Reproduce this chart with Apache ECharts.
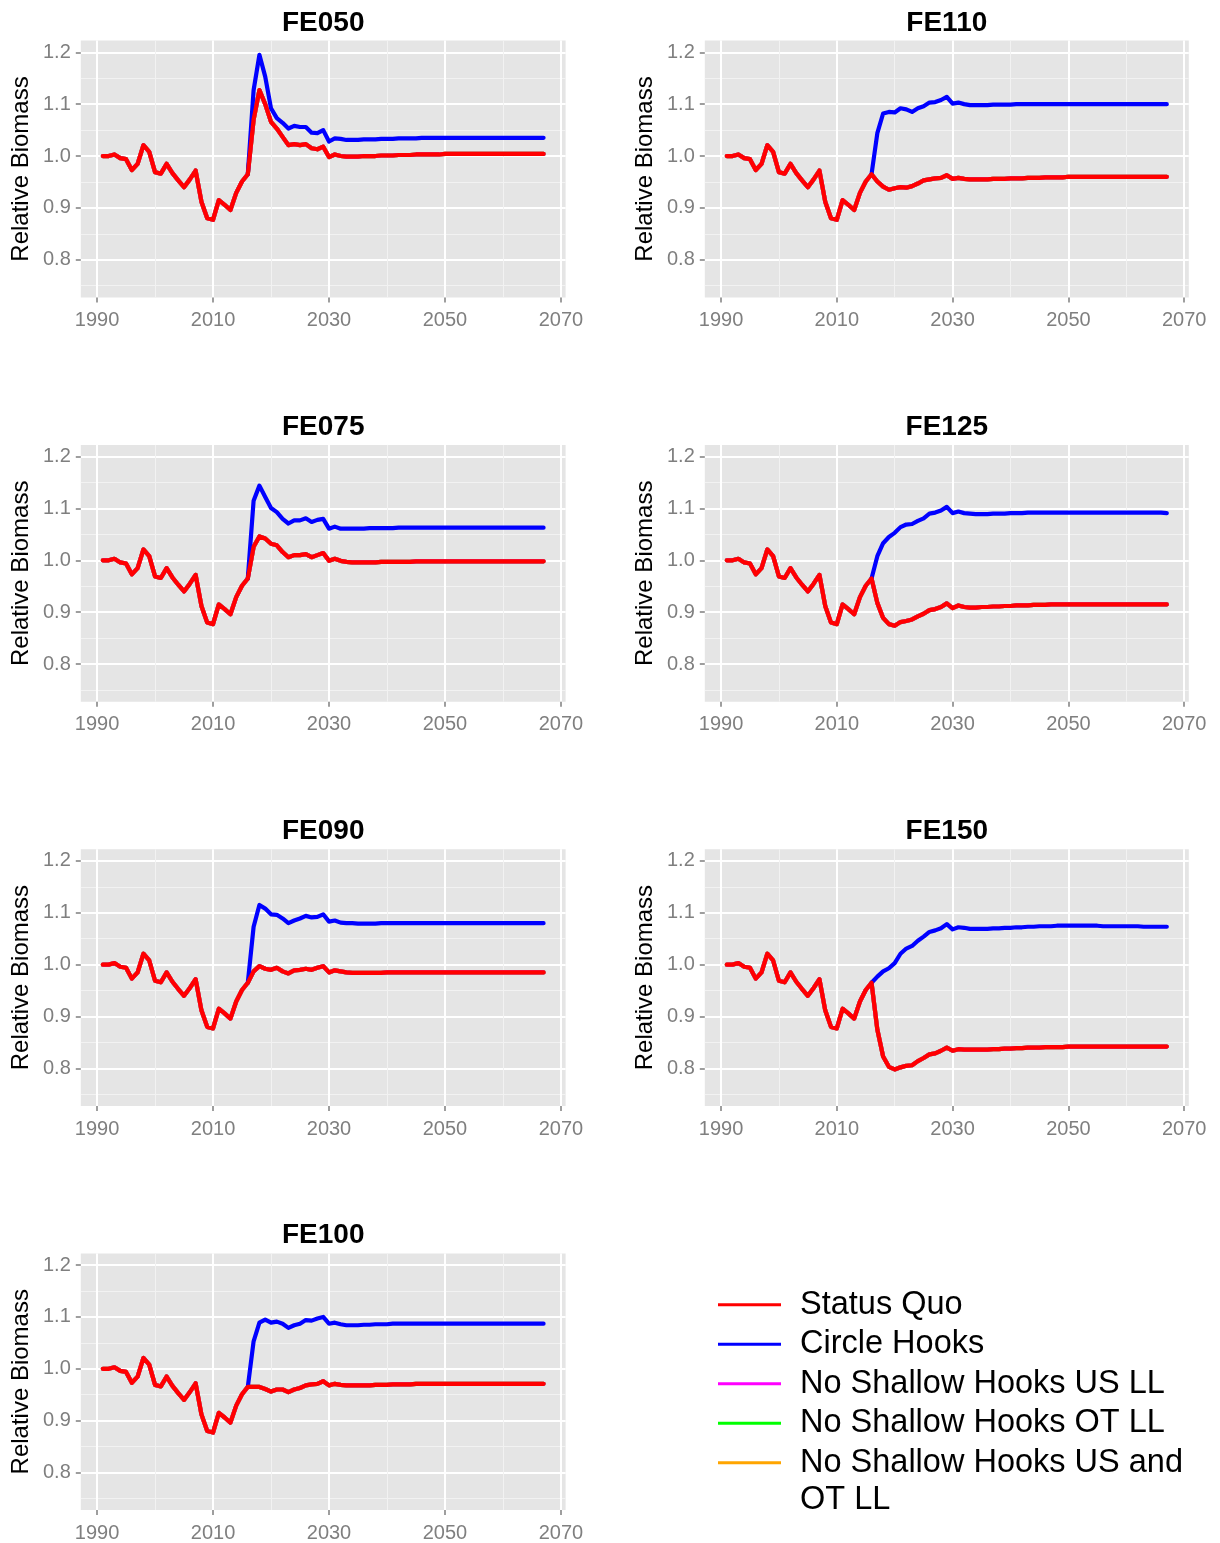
<!DOCTYPE html>
<html><head><meta charset="utf-8">
<script src="https://cdn.jsdelivr.net/npm/echarts@6/dist/echarts.min.js"></script>
<style>html,body{margin:0;padding:0;background:#fff}#c{width:1220px;height:1543px}</style>
</head><body><div id="c"></div>
<script>
// ---------- DATA ----------
const years = [1991,1992,1993,1994,1995,1996,1997,1998,1999,2000,
2001,2002,2003,2004,2005,2006,2007,2008,2009,2010,
2011,2012,2013,2014,2015,2016,2017,2018,2019,2020,
2021,2022,2023,2024,2025,2026,2027,2028,2029,2030,
2031,2032,2033,2034,2035,2036,2037,2038,2039,2040,
2041,2042,2043,2044,2045,2046,2047,2048,2049,2050,
2051,2052,2053,2054,2055,2056,2057,2058,2059,2060,
2061,2062,2063,2064,2065,2066,2067];

// common history 1991-2016
const hist = [1.000,1.000,1.003,0.996,0.994,0.973,0.985,1.021,1.008,0.969,
0.966,0.985,0.967,0.953,0.940,0.955,0.972,0.912,0.880,0.877,
0.915,0.906,0.896,0.929,0.951,0.965];

// projections 2017-2067
const fe050SQ = [1.070,1.127,1.100,1.066,1.053,1.037,1.021,1.023,1.021,1.023,
1.015,1.013,1.018,0.998,1.003,1.000,0.999,0.999,0.999,1.000,
1.000,1.000,1.001,1.001,1.001,1.002,1.002,1.002,1.003,1.003,
1.003,1.003,1.003,1.004,1.004,1.004,1.004,1.004,1.004,1.004,
1.004,1.004,1.004,1.004,1.004,1.004,1.004,1.004,1.004,1.004,
1.004];
const fe050CH = [1.127,1.195,1.153,1.092,1.073,1.064,1.053,1.058,1.056,1.056,
1.045,1.044,1.050,1.028,1.034,1.033,1.031,1.031,1.031,1.032,
1.032,1.032,1.033,1.033,1.033,1.034,1.034,1.034,1.034,1.035,
1.035,1.035,1.035,1.035,1.035,1.035,1.035,1.035,1.035,1.035,
1.035,1.035,1.035,1.035,1.035,1.035,1.035,1.035,1.035,1.035,
1.035];
const fe110SQ = [0.951,0.941,0.935,0.938,0.940,0.939,0.942,0.947,0.953,0.955,
0.957,0.958,0.963,0.956,0.958,0.956,0.955,0.955,0.955,0.955,
0.956,0.956,0.956,0.957,0.957,0.957,0.958,0.958,0.958,0.959,
0.959,0.959,0.959,0.960,0.960,0.960,0.960,0.960,0.960,0.960,
0.960,0.960,0.960,0.960,0.960,0.960,0.960,0.960,0.960,0.960,
0.960];
const fe110CH = [1.044,1.082,1.085,1.084,1.092,1.090,1.085,1.092,1.096,1.103,
1.104,1.108,1.114,1.101,1.103,1.100,1.098,1.098,1.098,1.098,
1.099,1.099,1.099,1.099,1.100,1.100,1.100,1.100,1.100,1.100,
1.100,1.100,1.100,1.100,1.100,1.100,1.100,1.100,1.100,1.100,
1.100,1.100,1.100,1.100,1.100,1.100,1.100,1.100,1.100,1.100,
1.100];
const fe075SQ = [1.026,1.046,1.042,1.032,1.029,1.016,1.006,1.010,1.010,1.012,
1.006,1.010,1.014,0.999,1.003,0.999,0.997,0.996,0.996,0.996,
0.996,0.996,0.997,0.997,0.997,0.997,0.997,0.997,0.998,0.998,
0.998,0.998,0.998,0.998,0.998,0.998,0.998,0.998,0.998,0.998,
0.998,0.998,0.998,0.998,0.998,0.998,0.998,0.998,0.998,0.998,
0.998];
const fe075CH = [1.115,1.144,1.122,1.101,1.093,1.080,1.071,1.077,1.077,1.081,
1.074,1.078,1.080,1.061,1.065,1.061,1.061,1.061,1.061,1.061,
1.062,1.062,1.062,1.062,1.062,1.063,1.063,1.063,1.063,1.063,
1.063,1.063,1.063,1.063,1.063,1.063,1.063,1.063,1.063,1.063,
1.063,1.063,1.063,1.063,1.063,1.063,1.063,1.063,1.063,1.063,
1.063];
const fe125SQ = [0.918,0.889,0.877,0.874,0.881,0.883,0.886,0.892,0.897,0.904,
0.906,0.910,0.917,0.908,0.913,0.910,0.909,0.909,0.910,0.910,
0.911,0.911,0.912,0.912,0.913,0.913,0.913,0.914,0.914,0.914,
0.915,0.915,0.915,0.915,0.915,0.915,0.915,0.915,0.915,0.915,
0.915,0.915,0.915,0.915,0.915,0.915,0.915,0.915,0.915,0.915,
0.915];
const fe125CH = [1.008,1.033,1.045,1.053,1.064,1.069,1.070,1.076,1.081,1.090,
1.092,1.096,1.103,1.091,1.094,1.091,1.090,1.089,1.089,1.089,
1.090,1.090,1.090,1.091,1.091,1.091,1.092,1.092,1.092,1.092,
1.092,1.092,1.092,1.092,1.092,1.092,1.092,1.092,1.092,1.092,
1.092,1.092,1.092,1.092,1.092,1.092,1.092,1.092,1.092,1.092,
1.091];
const fe090SQ = [0.987,0.997,0.992,0.990,0.994,0.987,0.983,0.989,0.990,0.992,
0.990,0.994,0.997,0.985,0.989,0.987,0.985,0.984,0.984,0.984,
0.984,0.984,0.984,0.985,0.985,0.985,0.985,0.985,0.985,0.985,
0.985,0.985,0.985,0.985,0.985,0.985,0.985,0.985,0.985,0.985,
0.985,0.985,0.985,0.985,0.985,0.985,0.985,0.985,0.985,0.985,
0.985];
const fe090CH = [1.073,1.115,1.108,1.097,1.096,1.089,1.080,1.085,1.089,1.094,
1.091,1.092,1.097,1.083,1.085,1.081,1.080,1.080,1.079,1.079,
1.079,1.079,1.080,1.080,1.080,1.080,1.080,1.080,1.080,1.080,
1.080,1.080,1.080,1.080,1.080,1.080,1.080,1.080,1.080,1.080,
1.080,1.080,1.080,1.080,1.080,1.080,1.080,1.080,1.080,1.080,
1.080];
const fe150SQ = [0.875,0.823,0.803,0.798,0.802,0.805,0.806,0.814,0.820,0.827,
0.829,0.834,0.840,0.834,0.837,0.836,0.836,0.836,0.836,0.836,
0.837,0.837,0.838,0.838,0.839,0.839,0.840,0.840,0.840,0.841,
0.841,0.841,0.841,0.842,0.842,0.842,0.842,0.842,0.842,0.842,
0.842,0.842,0.842,0.842,0.842,0.842,0.842,0.842,0.842,0.842,
0.842];
const fe150CH = [0.977,0.987,0.993,1.003,1.021,1.031,1.036,1.046,1.054,1.063,
1.066,1.070,1.078,1.068,1.072,1.071,1.069,1.069,1.069,1.069,
1.070,1.070,1.071,1.071,1.072,1.072,1.073,1.073,1.074,1.074,
1.074,1.075,1.075,1.075,1.075,1.075,1.075,1.075,1.075,1.074,
1.074,1.074,1.074,1.074,1.074,1.074,1.073,1.073,1.073,1.073,
1.073];
const fe100SQ = [0.965,0.965,0.961,0.956,0.960,0.960,0.955,0.960,0.963,0.968,
0.970,0.971,0.976,0.968,0.971,0.969,0.968,0.968,0.968,0.968,
0.968,0.969,0.969,0.969,0.970,0.970,0.970,0.970,0.971,0.971,
0.971,0.971,0.971,0.971,0.971,0.971,0.971,0.971,0.971,0.971,
0.971,0.971,0.971,0.971,0.971,0.971,0.971,0.971,0.971,0.971,
0.971];
const fe100CH = [1.053,1.089,1.095,1.089,1.091,1.087,1.079,1.084,1.087,1.094,
1.093,1.097,1.100,1.087,1.089,1.086,1.084,1.084,1.084,1.085,
1.085,1.086,1.086,1.086,1.087,1.087,1.087,1.087,1.087,1.087,
1.087,1.087,1.087,1.087,1.087,1.087,1.087,1.087,1.087,1.087,
1.087,1.087,1.087,1.087,1.087,1.087,1.087,1.087,1.087,1.087,
1.087];

const panelNames = ['FE050','FE110','FE075','FE125','FE090','FE150','FE100'];
const panelSQ = [fe050SQ, fe110SQ, fe075SQ, fe125SQ, fe090SQ, fe150SQ, fe100SQ];
const panelCH = [fe050CH, fe110CH, fe075CH, fe125CH, fe090CH, fe150CH, fe100CH];

const seriesNames = ['Status Quo','Circle Hooks','No Shallow Hooks US LL','No Shallow Hooks OT LL','No Shallow Hooks US and OT LL'];
const seriesColors = ['#FF0000','#0000FF','#FF00FF','#00FF00','#FFA500'];

const xTicks = [1990, 2010, 2030, 2050, 2070];
const xMinor = [2000, 2020, 2040, 2060];
const yTicks = [0.8, 0.9, 1.0, 1.1, 1.2];
const yMinor = [0.75, 0.85, 0.95, 1.05, 1.15];

// ---------- LAYOUT ----------
const FONT = 'Liberation Sans, Arial, Helvetica, sans-serif';
const colLeft = [80.8, 704.8];
const colWidth = [484.8, 484.0];
const rowTop0 = 40.6, rowStep = 404.3, panelH = 256.8;
const xMin = 1987.2, xMax = 2070.8;
const yMin = 0.7275, yMax = 1.2225;

const grids = [], xAxes = [], yAxes = [], titles = [], series = [];
panelNames.forEach((name, i) => {
  const col = i % 2, row = Math.floor(i / 2);
  const left = colLeft[col], top = rowTop0 + row * rowStep, width = colWidth[col];
  grids.push({left: left, top: top, width: width, height: panelH, show: true,
    backgroundColor: '#E5E5E5', borderWidth: 0});
  titles.push({text: name, left: left + width / 2, top: top - 17.8, textAlign: 'center',
    textVerticalAlign: 'middle', padding: 0,
    textStyle: {fontSize: 28, fontWeight: 'bold', color: '#000', fontFamily: FONT}});
  // minor axes (grid lines only)
  xAxes.push({type: 'value', gridIndex: i, min: xMin, max: xMax, position: 'top',
    axisLine: {show: false}, axisTick: {show: false, customValues: xMinor},
    axisLabel: {show: false, customValues: xMinor},
    splitLine: {show: true, lineStyle: {color: '#F2F2F2', width: 1}}});
  yAxes.push({type: 'value', gridIndex: i, min: yMin, max: yMax, position: 'right',
    axisLine: {show: false}, axisTick: {show: false, customValues: yMinor},
    axisLabel: {show: false, customValues: yMinor},
    splitLine: {show: true, lineStyle: {color: '#F2F2F2', width: 1}}});
  // main axes
  xAxes.push({type: 'value', gridIndex: i, min: xMin, max: xMax, position: 'bottom',
    axisLine: {show: false},
    axisTick: {show: true, customValues: xTicks, length: 5, lineStyle: {color: '#7F7F7F', width: 1.5}},
    axisLabel: {customValues: xTicks, color: '#7F7F7F', fontSize: 20, margin: 13, fontFamily: FONT,
      formatter: v => String(v)},
    splitLine: {show: true, lineStyle: {color: '#FFFFFF', width: 2}}});
  yAxes.push({type: 'value', gridIndex: i, min: yMin, max: yMax, position: 'left',
    name: 'Relative Biomass', nameLocation: 'middle', nameGap: 47,
    nameTextStyle: {fontSize: 24, color: '#000', fontFamily: FONT},
    axisLine: {show: false},
    axisTick: {show: true, customValues: yTicks, length: 5, lineStyle: {color: '#7F7F7F', width: 1.5}},
    axisLabel: {customValues: yTicks, color: '#7F7F7F', fontSize: 20, margin: 10, fontFamily: FONT,
      formatter: v => v.toFixed(1)},
    splitLine: {show: true, lineStyle: {color: '#FFFFFF', width: 2}}});

  const sq = years.map((y, k) => [y, k < hist.length ? hist[k] : panelSQ[i][k - hist.length]]);
  const ch = years.slice(hist.length - 1).map((y, k) => [y, k === 0 ? hist[hist.length - 1] : panelCH[i][k - 1]]);
  // The three "No Shallow Hooks" scenarios coincide with Status Quo in the picture
  const dataBy = [sq, ch, sq, sq, sq];
  const zBy = [6, 5, 4, 3, 2];
  [4, 3, 2, 1, 0].forEach(s => {
    series.push({type: 'line', name: seriesNames[s], xAxisIndex: 2 * i + 1, yAxisIndex: 2 * i + 1,
      data: dataBy[s], showSymbol: false, symbol: 'none', smooth: false, z: zBy[s],
      itemStyle: {color: seriesColors[s]},
      lineStyle: {color: seriesColors[s], width: 4.2, cap: 'round', join: 'round'},
      emphasis: {disabled: true}});
  });
});

const chart = echarts.init(document.getElementById('c'), null, {renderer: 'canvas', width: 1220, height: 1543});
chart.setOption({
  backgroundColor: '#FFFFFF',
  animation: false,
  title: titles,
  grid: grids,
  xAxis: xAxes,
  yAxis: yAxes,
  legend: {orient: 'vertical', left: 718, top: 1285, padding: 0, itemGap: 0,
    itemWidth: 63, itemHeight: 3, icon: 'rect', selectedMode: false,
    data: seriesNames,
    formatter: n => n === 'No Shallow Hooks US and OT LL' ? 'No Shallow Hooks US and' : n,
    textStyle: {fontSize: 32.5, color: '#000', lineHeight: 39.5, fontFamily: FONT, padding: [0, 0, 0, 14]}},
  graphic: [{type: 'text', x: 800, y: 1500,
    style: {text: 'OT LL', fontSize: 32.5, fill: '#000', fontFamily: FONT, verticalAlign: 'middle'}}],
  series: series
});
</script>
</body></html>
